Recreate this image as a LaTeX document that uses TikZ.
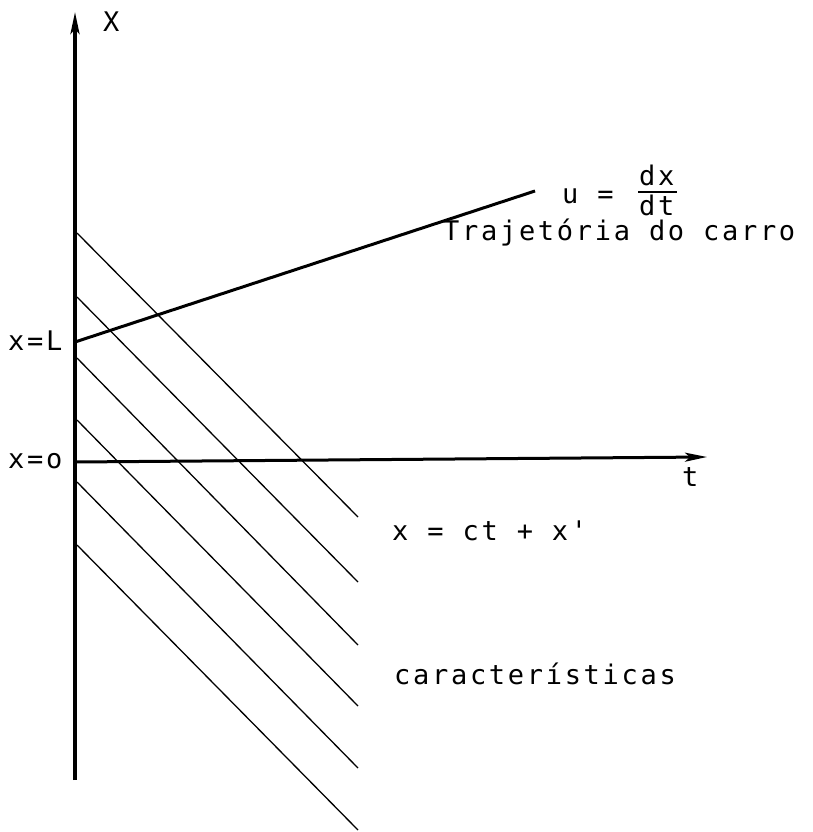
\documentclass[tikz,border=0pt]{standalone}
\usepackage{fontspec}
\newfontfamily\tw[LetterSpace=10]{DejaVu Sans Mono}
\usetikzlibrary{arrows.meta}
\begin{document}
\begin{tikzpicture}[x=1pt,y=-1pt,
  axisline/.style={line width=3.5pt},
  trajline/.style={line width=3pt},
  charline/.style={line width=1.3pt},
  lbl/.style={anchor=base west,inner sep=0pt,font=\fontsize{27}{30}\tw},
  tip/.style={-{Stealth[length=22pt,width=9pt,inset=5pt]}}
]
\fill[white] (0,0) rectangle (812,832);
\useasboundingbox (0,0) rectangle (812,832);

% axes
\coordinate (vbot) at (75,780);
\coordinate (vtop) at (75,12);
\coordinate (orig) at (75,462);
\coordinate (tend) at (707,457);
\draw[axisline,tip] (vbot) -- (vtop);
\draw[line width=3pt,tip] (orig) -- (tend);

% trajectory of the car
\coordinate (xL) at (75,342);
\coordinate (tr) at (535,191);
\draw[trajline] (xL) -- (tr);

% characteristics
\foreach \ys/\ye [count=\i] in {233/517,297/582,358/645,420/706,482/768,545/830}{
  \coordinate (c\i s) at (77,\ys);
  \coordinate (c\i e) at (358,\ye);
  \draw[charline] (c\i s) -- (c\i e);
}

% labels
\node[lbl] (lX) at (103,32) {X};
\node[lbl] (lt) at (682,486) {t};
\node[lbl] (lxL) at (8,350) {x=L};
\node[lbl] (lx0) at (8,468) {x=o};
\node[lbl] (lu) at (562,203) {u =};
\node[lbl] (ldx) at (639,185) {dx};
\node[lbl] (ldt) at (639,215) {dt};
\coordinate (barl) at (638,192);
\coordinate (barr) at (677,192);
\draw[line width=1.8pt] (barl) -- (barr);
\node[lbl] (ltraj) at (443,240) {Trajetória do carro};
\node[lbl] (leq) at (392,540) {x = ct + x'};
\node[lbl] (lcar) at (394,684) {características};
\end{tikzpicture}
\end{document}
